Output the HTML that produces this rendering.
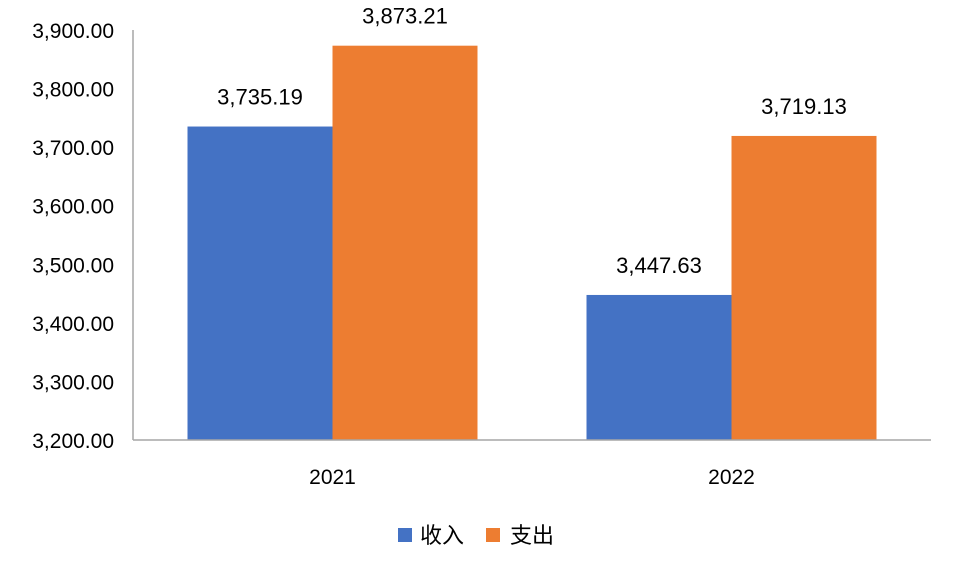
<!DOCTYPE html>
<html><head><meta charset="utf-8"><style>
body{margin:0;background:#fff;}
svg{display:block;font-family:"Liberation Sans","Noto Sans CJK SC",sans-serif;}
</style></head><body>
<svg id="chart" width="960" height="576" viewBox="0 0 960 576" xmlns="http://www.w3.org/2000/svg">
<rect width="960" height="576" fill="#fff"/>
<g id="yticks"></g>
<g id="bars"></g>
<g id="xlabels"></g>
<line x1="133" y1="30" x2="133" y2="440" stroke="#a6a6a6" stroke-width="1.5"/>
<line x1="133" y1="440" x2="931" y2="440" stroke="#a6a6a6" stroke-width="1.5"/>
<g>
<rect x="398" y="528" width="14" height="14" fill="#4472c4"/>
<text x="420" y="543" font-size="22" fill="#000">收入</text>
<rect x="486" y="528" width="14" height="14" fill="#ed7d31"/>
<text x="510" y="543" font-size="22" fill="#000">支出</text>
</g>
</svg>
<script>
const categories = ["2021", "2022"];
const incomeValues = [3735.19, 3447.63];
const expenseValues = [3873.21, 3719.13];
const yTicks = [3200, 3300, 3400, 3500, 3600, 3700, 3800, 3900];
const seriesColors = ["#4472c4", "#ed7d31"];

const NS = "http://www.w3.org/2000/svg";
const x0 = 133, x1 = 931, yTop = 30, yBot = 440, yMin = 3200, yMax = 3900;
const yScale = v => yBot - (v - yMin) / (yMax - yMin) * (yBot - yTop);
const bandW = (x1 - x0) / categories.length;
const xCenter = i => x0 + bandW * (i + 0.5);
const barW = 145;
const fmt = v => v.toLocaleString("en-US", {minimumFractionDigits: 2, maximumFractionDigits: 2});

function mk(tag, attrs, parent) {
  const el = document.createElementNS(NS, tag);
  for (const k in attrs) el.setAttribute(k, attrs[k]);
  parent.appendChild(el);
  return el;
}
const yg = document.getElementById("yticks");
yTicks.forEach(t => {
  const el = mk("text", {x: 114, y: yScale(t) + 8, "text-anchor": "end", "font-size": "21", fill: "#000"}, yg);
  
  
  el.textContent = fmt(t);
});
const bg = document.getElementById("bars");
const xg = document.getElementById("xlabels");
const series = [incomeValues, expenseValues];
categories.forEach((c, i) => {
  const cx = xCenter(i);
  series.forEach((vals, s) => {
    const v = vals[i];
    const bx = cx - barW + s * barW;
    const r = mk("rect", {x: bx, y: yScale(v), width: barW, height: yBot - yScale(v), fill: seriesColors[s]}, bg);
    
    
    const t = mk("text", {x: bx + barW / 2, y: yScale(v) - 22, "text-anchor": "middle", "font-size": "22", fill: "#000"}, bg);
    
    
    t.textContent = fmt(v);
  });
  const xl = mk("text", {x: cx, y: 484, "text-anchor": "middle", "font-size": "21", fill: "#000"}, xg);
  
  
  xl.textContent = c;
});
</script>
</body></html>
